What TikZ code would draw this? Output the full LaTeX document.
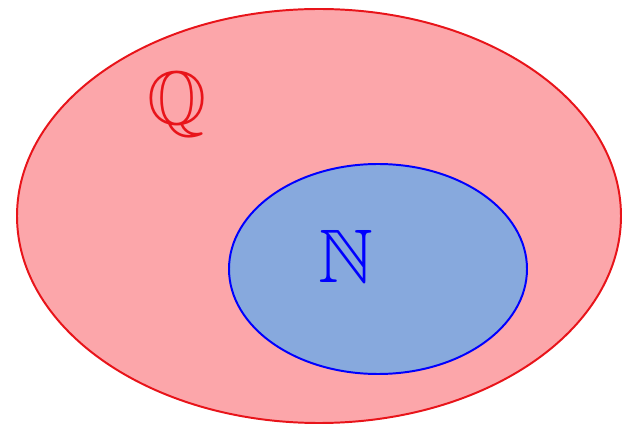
\documentclass[tikz,border=0pt]{standalone}
\usepackage{amsfonts,amsmath,amssymb}
\usepackage{tikz}
\definecolor{setpink}{HTML}{FCA6AA}
\definecolor{setblue}{HTML}{87A9DD}
\definecolor{setred}{HTML}{E8141A}
\tikzset{
  every picture/.style={line join=round, line cap=round},
  setline/.style={line width=1.4pt},
  setlabel/.style={font=\fontsize{54}{60}\selectfont, inner sep=0pt},
}
\begin{document}
\begin{tikzpicture}[x=0.025cm,y=-0.025cm]
\useasboundingbox (0,0) rectangle (631,425);
\draw[setline,setred,fill=setpink](319,216) ellipse[x radius=302,y radius=207];
\draw[setline,blue,fill=setblue](378,269) ellipse[x radius=149,y radius=105];
\node[setlabel,setred] (Q) at (177,105) {$\mathbb{Q}$};
\node[setlabel,blue] (N) at (346,256) {$\mathbb{N}$};
\end{tikzpicture}
\end{document}
